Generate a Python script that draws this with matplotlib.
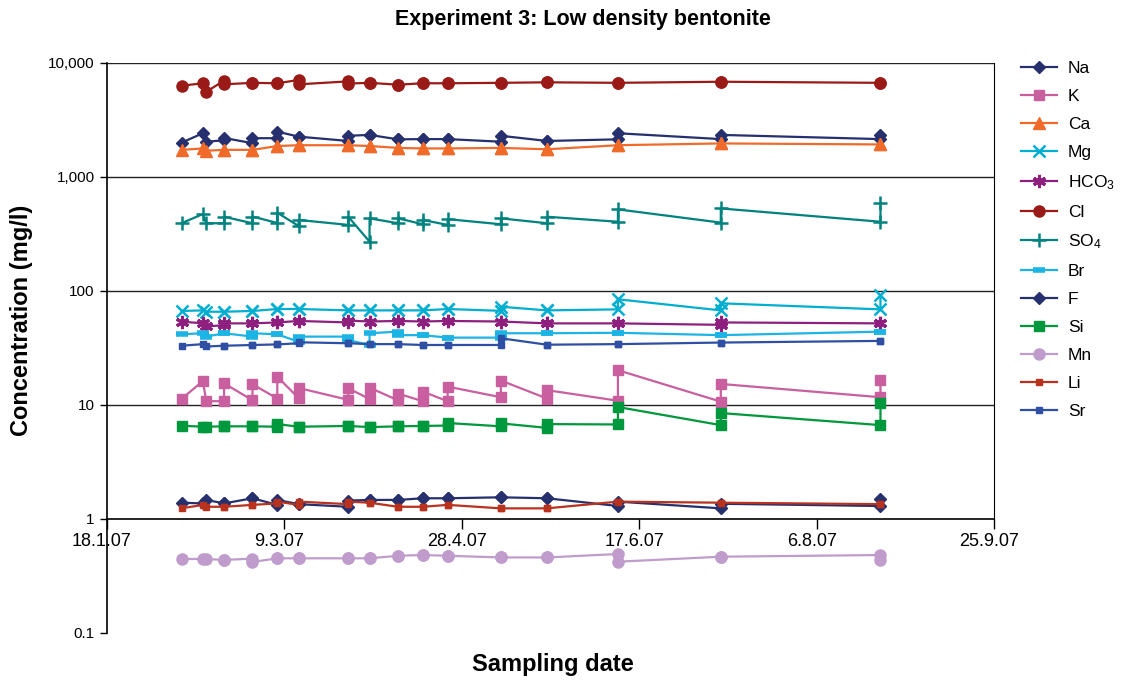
import numpy as np
import pandas as pd
import matplotlib
matplotlib.use("Agg")
import matplotlib.pyplot as plt
import matplotlib.transforms as mtransforms

plt.rcParams["font.family"] = ["Liberation Sans", "DejaVu Sans"]
plt.rcParams["mathtext.fontset"] = "custom"
plt.rcParams["mathtext.rm"] = "Liberation Sans"
plt.rcParams["mathtext.default"] = "regular"

# sampling dates (two samples on most dates)
dates = ["2007-02-08", "2007-02-14", "2007-02-15", "2007-02-20", "2007-02-20",
         "2007-02-28", "2007-02-28", "2007-03-07", "2007-03-07", "2007-03-13",
         "2007-03-13", "2007-03-27", "2007-03-27", "2007-04-02", "2007-04-02",
         "2007-04-10", "2007-04-10", "2007-04-17", "2007-04-17", "2007-04-24",
         "2007-04-24", "2007-05-09", "2007-05-09", "2007-05-22", "2007-05-22",
         "2007-06-11", "2007-06-11", "2007-07-10", "2007-07-10", "2007-08-24",
         "2007-08-24"]

Na = [2000, 2420, 2040, 2100, 2200, 1980, 2190, 2190, 2500, 2260, 2260, 2070, 2300, 2340, 2340,
      2140, 2140, 2150, 2150, 2150, 2150, 2040, 2300, 2070, 2070, 2140, 2420, 2150, 2340, 2150, 2340]
K = [11.3, 16.2, 10.8, 10.8, 15.5, 11.0, 15.2, 11.4, 17.7, 11.5, 14.1, 11.1, 14.0, 11.3, 14.2,
     11.0, 12.6, 10.8, 13.1, 10.8, 14.5, 11.7, 16.4, 11.4, 13.5, 10.9, 20.2, 10.7, 15.3, 11.7, 16.6]
Ca = [1730, 1780, 1700, 1730, 1730, 1730, 1730, 1870, 1870, 1900, 1900, 1900, 1900, 1870, 1870,
      1800, 1800, 1780, 1780, 1780, 1780, 1800, 1800, 1750, 1750, 1900, 1900, 1970, 1970, 1930, 1930]
Mg = [66.8, 67.6, 65.8, 65.8, 65.8, 66.8, 66.8, 69.5, 69.5, 69.5, 69.5, 67.6, 67.6, 67.6, 67.6,
      67.6, 67.6, 67.6, 67.6, 69.5, 69.5, 67.0, 72.8, 67.6, 67.6, 69.0, 84.6, 67.6, 78.0, 69.0, 92.0]
HCO3 = [53.8, 52.1, 49.0, 50.0, 52.0, 52.0, 52.0, 53.0, 53.0, 54.6, 54.6, 53.0, 55.0, 54.0, 54.0,
        54.6, 54.6, 54.0, 54.0, 54.6, 54.6, 54.0, 54.0, 52.0, 52.0, 52.0, 52.0, 50.5, 53.0, 52.0, 52.0]
Cl = [6320, 6640, 5600, 7000, 6500, 6700, 6700, 6640, 6640, 7100, 6500, 6900, 6600, 6700, 6700,
      6450, 6450, 6640, 6640, 6640, 6640, 6700, 6700, 6770, 6770, 6700, 6700, 6850, 6850, 6700, 6700]
SO4 = [393, 473, 393, 393, 448, 393, 450, 395, 486, 372, 420, 380, 448, 271, 434,
       393, 434, 385, 420, 380, 427, 385, 434, 393, 448, 405, 520, 398, 530, 405, 588]
Br = [41.7, 42.6, 39.8, 42.6, 42.6, 39.8, 42.6, 41.7, 41.7, 35.9, 39.8, 39.8, 37.1, 33.6, 42.6,
      44.0, 41.0, 41.0, 41.0, 39.0, 39.0, 39.0, 42.6, 42.6, 42.6, 43.0, 43.0, 41.0, 41.0, 44.0, 44.0]
F = [1.39, 1.37, 1.47, 1.37, 1.37, 1.52, 1.52, 1.33, 1.47, 1.35, 1.35, 1.28, 1.45, 1.47, 1.47,
     1.47, 1.47, 1.52, 1.52, 1.52, 1.52, 1.55, 1.55, 1.52, 1.52, 1.30, 1.42, 1.24, 1.36, 1.30, 1.49]
Si = [6.58, 6.45, 6.45, 6.5, 6.5, 6.5, 6.5, 6.45, 6.8, 6.45, 6.45, 6.55, 6.55, 6.4, 6.4,
      6.5, 6.5, 6.55, 6.55, 6.6, 6.95, 6.5, 6.9, 6.3, 6.8, 6.75, 9.6, 6.66, 8.5, 6.66, 10.5]
Mn = [0.446, 0.446, 0.446, 0.437, 0.437, 0.45, 0.42, 0.452, 0.452, 0.452, 0.452, 0.452, 0.452,
      0.452, 0.452, 0.476, 0.476, 0.483, 0.483, 0.476, 0.476, 0.46, 0.46, 0.46, 0.46, 0.493,
      0.422, 0.467, 0.467, 0.483, 0.437]
Li = [1.24, 1.33, 1.28, 1.28, 1.28, 1.33, 1.33, 1.37, 1.42, 1.33, 1.42, 1.35, 1.42, 1.39, 1.39,
      1.28, 1.28, 1.28, 1.28, 1.33, 1.33, 1.24, 1.24, 1.24, 1.24, 1.42, 1.42, 1.39, 1.39, 1.35, 1.35]
Sr = [33.1, 34.2, 32.6, 33.1, 33.1, 33.6, 33.6, 34.0, 34.0, 34.8, 35.5, 34.8, 34.8, 34.2, 34.2,
      34.2, 34.2, 33.6, 33.6, 33.6, 33.6, 33.6, 38.5, 33.8, 33.8, 34.2, 34.2, 35.3, 35.3, 36.5, 36.5]

xtick_dates = ["2007-01-18", "2007-03-09", "2007-04-28", "2007-06-17", "2007-08-06", "2007-09-25"]
xtick_labels = ["18.1.07", "9.3.07", "28.4.07", "17.6.07", "6.8.07", "25.9.07"]
ytick_vals = [0.1, 1, 10, 100, 1000, 10000]
ytick_labels = ["0.1", "1", "10", "100", "1,000", "10,000"]

# label, values, colour, marker, marker size
series = [
    ("Na", Na, "#26306e", "D", 6.5),
    ("K", K, "#c95f9f", "s", 7.5),
    ("Ca", Ca, "#f06a2a", "^", 8),
    ("Mg", Mg, "#00aed0", "x", 8),
    (r"HCO$_3$", HCO3, "#8e1f7f", (6, 2, 0), 9.5),
    ("Cl", Cl, "#9a1a17", "o", 8),
    (r"SO$_4$", SO4, "#00827f", "+", 10),
    ("Br", Br, "#1cb4e4", "_", 8),
    ("F", F, "#26306e", "D", 6.5),
    ("Si", Si, "#00983c", "s", 7.5),
    ("Mn", Mn, "#bf9ccb", "o", 8),
    ("Li", Li, "#b8321e", "s", 4.5),
    ("Sr", Sr, "#2e4fa3", "s", 4),
]

x = pd.to_datetime(dates)

fig = plt.figure(figsize=(11.21, 6.8), dpi=100)
ax = fig.add_axes([107 / 1121, 1 - 633 / 680, (994 - 107) / 1121, (633 - 63) / 680])

for label, vals, col, mk, ms in series:
    mew = 1.0
    if mk in ("x", "+"):
        mew = 1.8
    elif mk == "_":
        mew = 4
    elif mk == (6, 2, 0):
        mew = 2.2
    ax.plot(x, vals, color=col, lw=1.6, marker=mk, markersize=ms,
            markerfacecolor=col, markeredgecolor=col, markeredgewidth=mew, label=label)

ax.set_yscale("log")
ax.set_ylim(0.1, 10000)
ax.set_xlim(pd.Timestamp(xtick_dates[0]), pd.Timestamp(xtick_dates[-1]))

# x axis crosses at 1
ax.spines["bottom"].set_position(("data", 1))
ax.spines["top"].set_visible(False)
ax.spines["right"].set_bounds(1, 10000)
ax.spines["left"].set_linewidth(1.2)
ax.spines["bottom"].set_linewidth(1.2)

ax.set_yticks(ytick_vals)
ax.set_yticklabels(ytick_labels)
ax.yaxis.set_minor_locator(matplotlib.ticker.NullLocator())
ax.set_xticks(pd.to_datetime(xtick_dates))
ax.set_xticklabels(xtick_labels)
ax.tick_params(axis="y", direction="out", length=5, width=1, pad=4, labelsize=11)
ax.tick_params(axis="x", direction="out", length=7, width=1, pad=3, labelsize=13)

shift = mtransforms.ScaledTranslation(-5 / 100, 0, fig.dpi_scale_trans)
for t in ax.get_xticklabels():
    t.set_transform(t.get_transform() + shift)

for yv in [10, 100, 1000, 10000]:
    ax.axhline(yv, color="#222222", lw=1.0, zorder=0)

fig.text(583 / 1121, 1 - 20 / 680, "Experiment 3: Low density bentonite",
         ha="center", va="center", fontsize=15.5, fontweight="bold")
fig.text(553 / 1121, 1 - 665 / 680, "Sampling date",
         ha="center", va="center", fontsize=17, fontweight="bold")
fig.text(22 / 1121, 1 - 320 / 680, "Concentration (mg/l)", rotation=90,
         ha="center", va="center", fontsize=17, fontweight="bold")

fig.legend(loc="upper left", bbox_to_anchor=(1014 / 1121, 1 - 54 / 680), frameon=False,
           fontsize=12.5, handlelength=2.1, labelspacing=0.74, handletextpad=0.6,
           borderaxespad=0)

fig.savefig("out.png", dpi=100)
